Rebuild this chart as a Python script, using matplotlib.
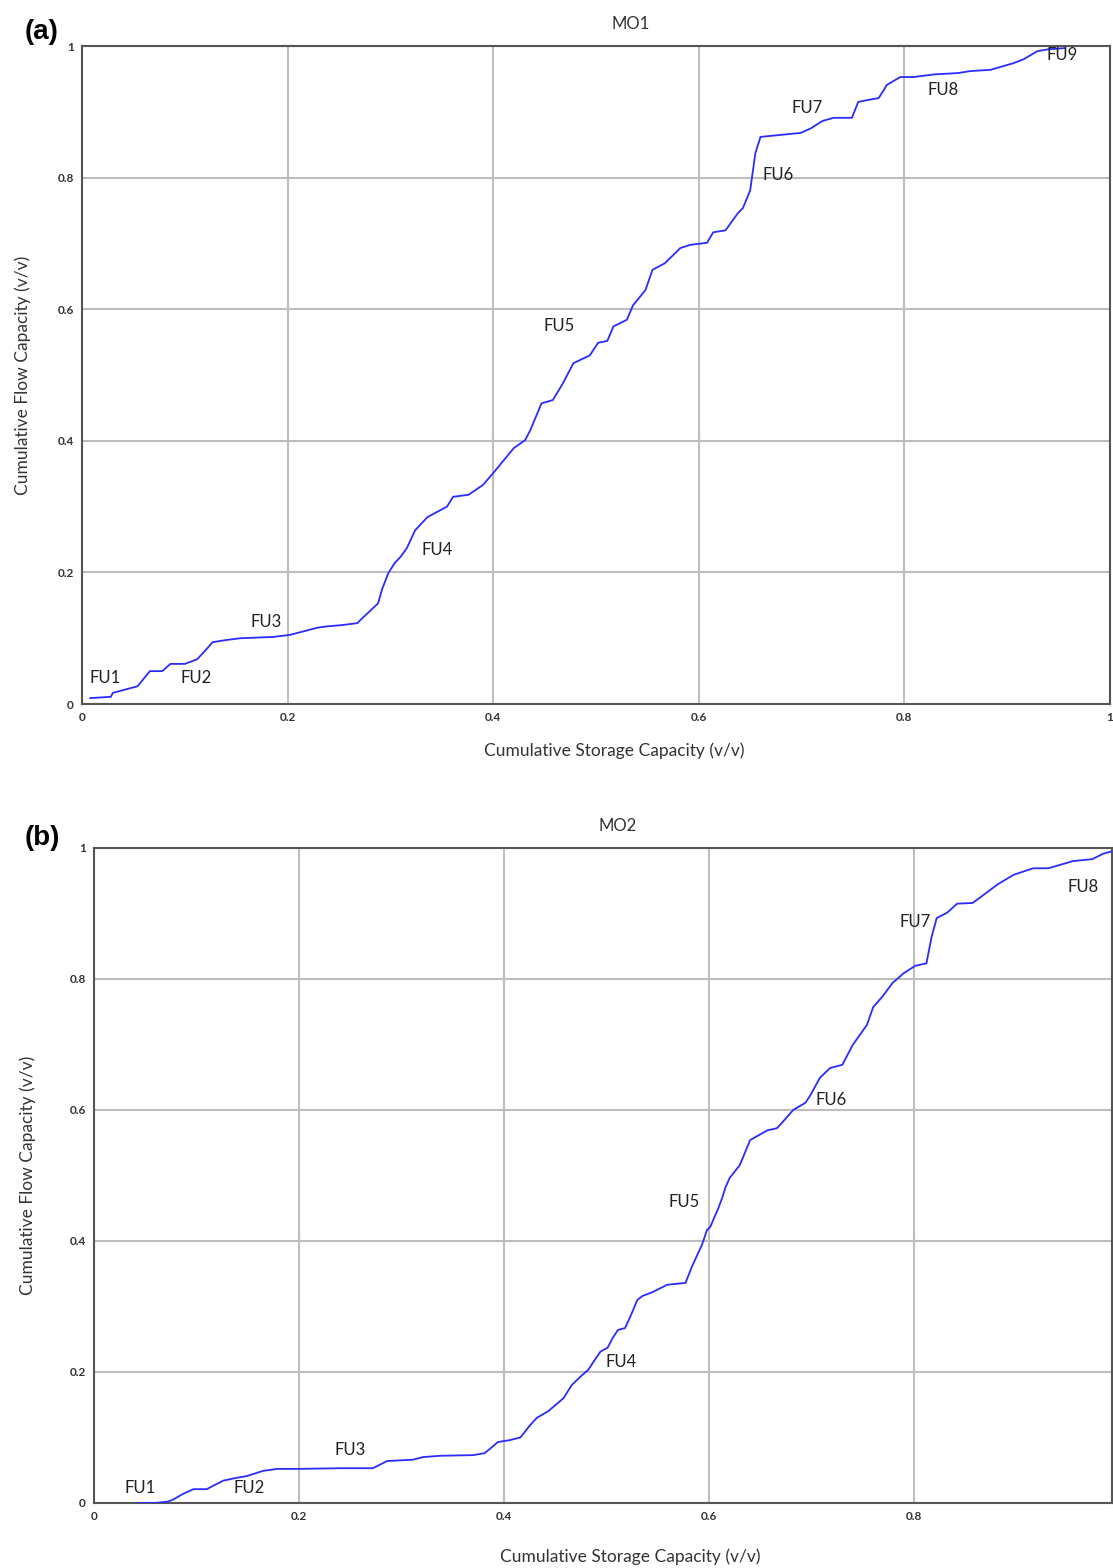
import numpy as np
import matplotlib
matplotlib.use('Agg')
import matplotlib.pyplot as plt

plt.rcParams['font.family'] = ['Lato', 'DejaVu Sans']

# MO1 curve (storage, flow)
mo1_x = [0.008, 0.028, 0.030, 0.054, 0.066, 0.078, 0.086, 0.100, 0.112, 0.122, 0.127,
         0.139, 0.154, 0.186, 0.202, 0.229, 0.238, 0.253, 0.268, 0.271, 0.288, 0.292,
         0.298, 0.304, 0.310, 0.316, 0.324, 0.336, 0.343, 0.355, 0.361, 0.376, 0.390,
         0.400, 0.420, 0.431, 0.436, 0.447, 0.458, 0.468, 0.478, 0.494, 0.502, 0.511,
         0.517, 0.530, 0.536, 0.548, 0.555, 0.567, 0.582, 0.592, 0.608, 0.614, 0.626,
         0.638, 0.643, 0.650, 0.655, 0.660, 0.699, 0.709, 0.720, 0.731, 0.749, 0.755,
         0.764, 0.775, 0.783, 0.796, 0.809, 0.829, 0.852, 0.864, 0.884, 0.906, 0.916,
         0.929, 0.939, 0.956]
mo1_y = [0.009, 0.011, 0.017, 0.027, 0.050, 0.050, 0.061, 0.061, 0.068, 0.085, 0.094,
         0.097, 0.100, 0.102, 0.105, 0.116, 0.118, 0.120, 0.123, 0.128, 0.153, 0.175,
         0.199, 0.214, 0.224, 0.237, 0.264, 0.284, 0.290, 0.300, 0.315, 0.318, 0.333,
         0.351, 0.389, 0.401, 0.416, 0.457, 0.462, 0.488, 0.518, 0.530, 0.549, 0.552,
         0.574, 0.584, 0.606, 0.629, 0.660, 0.670, 0.693, 0.698, 0.701, 0.717, 0.720,
         0.746, 0.754, 0.781, 0.837, 0.862, 0.868, 0.875, 0.886, 0.891, 0.891, 0.915,
         0.918, 0.921, 0.941, 0.953, 0.953, 0.957, 0.959, 0.962, 0.964, 0.974, 0.980,
         0.992, 0.995, 0.997]

# MO2 curve
mo2_x = [0.043, 0.060, 0.072, 0.077, 0.087, 0.097, 0.110, 0.116, 0.126, 0.138, 0.149,
         0.165, 0.179, 0.201, 0.240, 0.272, 0.286, 0.311, 0.321, 0.338, 0.370, 0.381,
         0.388, 0.394, 0.406, 0.416, 0.425, 0.432, 0.443, 0.452, 0.458, 0.466, 0.476,
         0.482, 0.487, 0.494, 0.501, 0.506, 0.511, 0.518, 0.523, 0.530, 0.535, 0.545,
         0.559, 0.577, 0.583, 0.593, 0.598, 0.601, 0.604, 0.609, 0.613, 0.616, 0.620,
         0.630, 0.640, 0.657, 0.666, 0.672, 0.682, 0.694, 0.699, 0.708, 0.718, 0.730,
         0.735, 0.740, 0.754, 0.760, 0.769, 0.779, 0.790, 0.801, 0.812, 0.817, 0.822,
         0.832, 0.842, 0.857, 0.864, 0.881, 0.897, 0.916, 0.931, 0.955, 0.974, 0.984,
         0.993]
mo2_y = [0.000, 0.000, 0.002, 0.005, 0.014, 0.021, 0.021, 0.026, 0.034, 0.038, 0.041,
         0.049, 0.052, 0.052, 0.053, 0.053, 0.064, 0.066, 0.070, 0.072, 0.073, 0.076,
         0.085, 0.093, 0.096, 0.100, 0.118, 0.130, 0.140, 0.152, 0.160, 0.180, 0.195,
         0.203, 0.215, 0.231, 0.237, 0.252, 0.264, 0.267, 0.284, 0.310, 0.316, 0.322,
         0.333, 0.336, 0.360, 0.394, 0.417, 0.421, 0.432, 0.450, 0.467, 0.482, 0.496,
         0.516, 0.554, 0.569, 0.572, 0.582, 0.600, 0.611, 0.623, 0.649, 0.664, 0.669,
         0.684, 0.699, 0.730, 0.757, 0.773, 0.794, 0.809, 0.820, 0.824, 0.864, 0.893,
         0.901, 0.915, 0.916, 0.924, 0.944, 0.959, 0.969, 0.969, 0.980, 0.983, 0.991,
         0.995]

# flow unit labels
mo1_fu = ['FU1', 'FU2', 'FU3', 'FU4', 'FU5', 'FU6', 'FU7', 'FU8', 'FU9']
mo1_fu_x = [0.022, 0.111, 0.179, 0.345, 0.464, 0.677, 0.705, 0.838, 0.953]
mo1_fu_y = [0.040, 0.040, 0.125, 0.234, 0.574, 0.804, 0.906, 0.933, 0.986]

mo2_fu = ['FU1', 'FU2', 'FU3', 'FU4', 'FU5', 'FU6', 'FU7', 'FU8']
mo2_fu_x = [0.045, 0.151, 0.250, 0.514, 0.576, 0.719, 0.801, 0.965]
mo2_fu_y = [0.023, 0.023, 0.081, 0.215, 0.460, 0.615, 0.887, 0.940]

fig = plt.figure(figsize=(11.13, 15.68), dpi=100)
ax1 = fig.add_axes([0.0737, 0.551, 0.9236, 0.4196])
ax2 = fig.add_axes([0.0845, 0.0415, 0.9146, 0.4177])

def style(ax, x, y, labels, lx, ly, title, xmax, xticks, tx, lblx, lbly, ypad):
    ax.plot(x, y, color='#2b2bff', lw=1.3, zorder=3)
    for t, a, b in zip(labels, lx, ly):
        ax.text(a, b, t, ha='center', va='center', fontsize=12, color='#222222', zorder=4)
    ax.set_xlim(0, xmax)
    ax.set_ylim(0, 1)
    ax.set_xticks(xticks)
    ax.set_xticklabels(['0' if v == 0 else ('1' if v == 1 else '%.1f' % v) for v in xticks],
                       fontsize=8.5, fontweight='bold', color='#333333')
    yt = [0, 0.2, 0.4, 0.6, 0.8, 1]
    ax.set_yticks(yt)
    ax.set_yticklabels(['0', '0.2', '0.4', '0.6', '0.8', '1'], fontsize=8.5,
                       fontweight='bold', color='#333333')
    ax.tick_params(length=0, pad=6)
    ax.grid(True, color='#bdbdbd', lw=1.5)
    ax.set_axisbelow(True)
    for s in ax.spines.values():
        s.set_color('#555555')
        s.set_linewidth(1.5)
    ax.set_title(title, fontsize=12, color='#333333', pad=12, x=tx)
    ax.set_xlabel('Cumulative Storage Capacity (v/v)', fontsize=12.5, color='#333333')
    ax.xaxis.set_label_coords(lblx, lbly)
    ax.set_ylabel('Cumulative Flow Capacity (v/v)', fontsize=12.5, color='#333333', labelpad=ypad)

style(ax1, mo1_x, mo1_y, mo1_fu, mo1_fu_x, mo1_fu_y, 'MO1', 1.0,
      [0, 0.2, 0.4, 0.6, 0.8, 1], 0.534, 0.5175, -0.059, 19)
style(ax2, mo2_x, mo2_y, mo2_fu, mo2_fu_x, mo2_fu_y, 'MO2', 0.993,
      [0, 0.2, 0.4, 0.6, 0.8], 0.514, 0.5265, -0.07, 24)

fig.text(42 / 1113, 1 - 32 / 1568, '(a)', fontsize=20, fontweight='bold',
         family='Liberation Sans', ha='center', va='center')
fig.text(42 / 1113, 1 - 838 / 1568, '(b)', fontsize=20, fontweight='bold',
         family='Liberation Sans', ha='center', va='center')

fig.savefig('out.png', dpi=100)
